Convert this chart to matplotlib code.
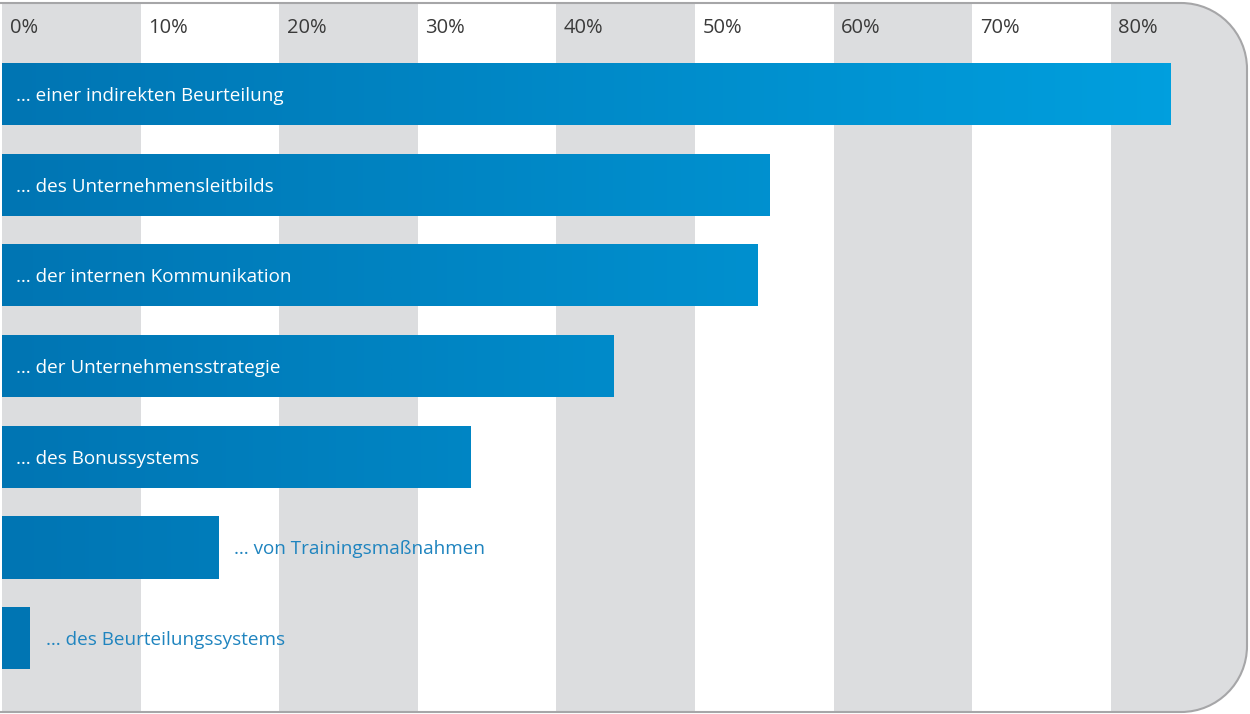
import numpy as np
import matplotlib
matplotlib.use("Agg")
import matplotlib.pyplot as plt
from matplotlib.colors import LinearSegmentedColormap
from matplotlib.path import Path
from matplotlib.patches import PathPatch
from matplotlib.transforms import Affine2D

# data
labels = [
    "… einer indirekten Beurteilung",
    "… des Unternehmensleitbilds",
    "… der internen Kommunikation",
    "… der Unternehmensstrategie",
    "… des Bonussystems",
    "… von Trainingsmaßnahmen",
    "… des Beurteilungssystems",
]
values = [84.3, 55.4, 54.5, 44.1, 33.8, 15.6, 2.0]
ticks = [0, 10, 20, 30, 40, 50, 60, 70, 80]
tick_labels = ["0%", "10%", "20%", "30%", "40%", "50%", "60%", "70%", "80%"]

FONT = "Open Sans"
W, H = 1250, 714
px = 13.86  # pixels per percent
fig = plt.figure(figsize=(W / 100, H / 100), dpi=100)
ax = fig.add_axes([0, 0, 1, 1])
ax.axis("off")

# frame shape in pixel coords (y down), rounded on the right
r = 66
left, top, right, bot = -5, 3, 1247, 712
k = 0.5523 * r
verts = [(left, top), (right - r, top),
         (right - r + k, top), (right, top + r - k), (right, top + r),
         (right, bot - r),
         (right, bot - r + k), (right - r + k, bot), (right - r, bot),
         (left, bot)]
codes = [Path.MOVETO, Path.LINETO,
         Path.CURVE4, Path.CURVE4, Path.CURVE4,
         Path.LINETO,
         Path.CURVE4, Path.CURVE4, Path.CURVE4,
         Path.LINETO]
frame_path = Path(verts, codes)
pix = Affine2D().scale(1 / W, -1 / H).translate(0, 1) + fig.transFigure

clip = PathPatch(frame_path, transform=pix, facecolor="none", edgecolor="none")
fig.add_artist(clip)

# grey bands
for t in ticks[::2]:
    band = ax.axvspan(t, t + 10 if t < 80 else 200, color="#dcdddf", lw=0, zorder=0)
    band.set_clip_path(clip)

fig.add_artist(PathPatch(frame_path, transform=pix, facecolor="none",
                         edgecolor="#a6a6a8", lw=1.5, zorder=5))

# tick labels
for t, tl in zip(ticks, tick_labels):
    ax.text(t + 0.55, -0.73, tl, fontsize=14.5, family=FONT, color="#3a3a3a",
            va="center", ha="left")

# bars with horizontal gradient
cmap = LinearSegmentedColormap.from_list("bl", ["#0075b3", "#009fde"])
vmax = max(values)
y = np.arange(len(values))
bars = ax.barh(y, values, height=0.684, color="#0088c8", lw=0, zorder=2)
for b in bars:
    x0, w = b.get_x(), b.get_width()
    y0, h = b.get_y(), b.get_height()
    grad = np.linspace(x0, x0 + w, 256).reshape(1, -1) / vmax
    im = ax.imshow(grad, cmap=cmap, vmin=0, vmax=1, aspect="auto",
                   extent=(x0, x0 + w, y0 + h, y0), zorder=3,
                   interpolation="bilinear")
    im.set_clip_path(b)

for i, (lab, v) in enumerate(zip(labels, values)):
    if v > 25:
        ax.text(1.0, i + 0.02, lab, color="white", fontsize=13.6, family=FONT,
                va="center", ha="left", zorder=4)
    else:
        ax.text(v + 1.15, i + 0.02, lab, color="#1f84bf", fontsize=13.6, family=FONT,
                va="center", ha="left", zorder=4)

ax.set_ylim((H - 94) / 90.7, -94 / 90.7)
ax.set_xlim(-2 / px, (W - 2) / px)
fig.savefig("out.png", dpi=100)
